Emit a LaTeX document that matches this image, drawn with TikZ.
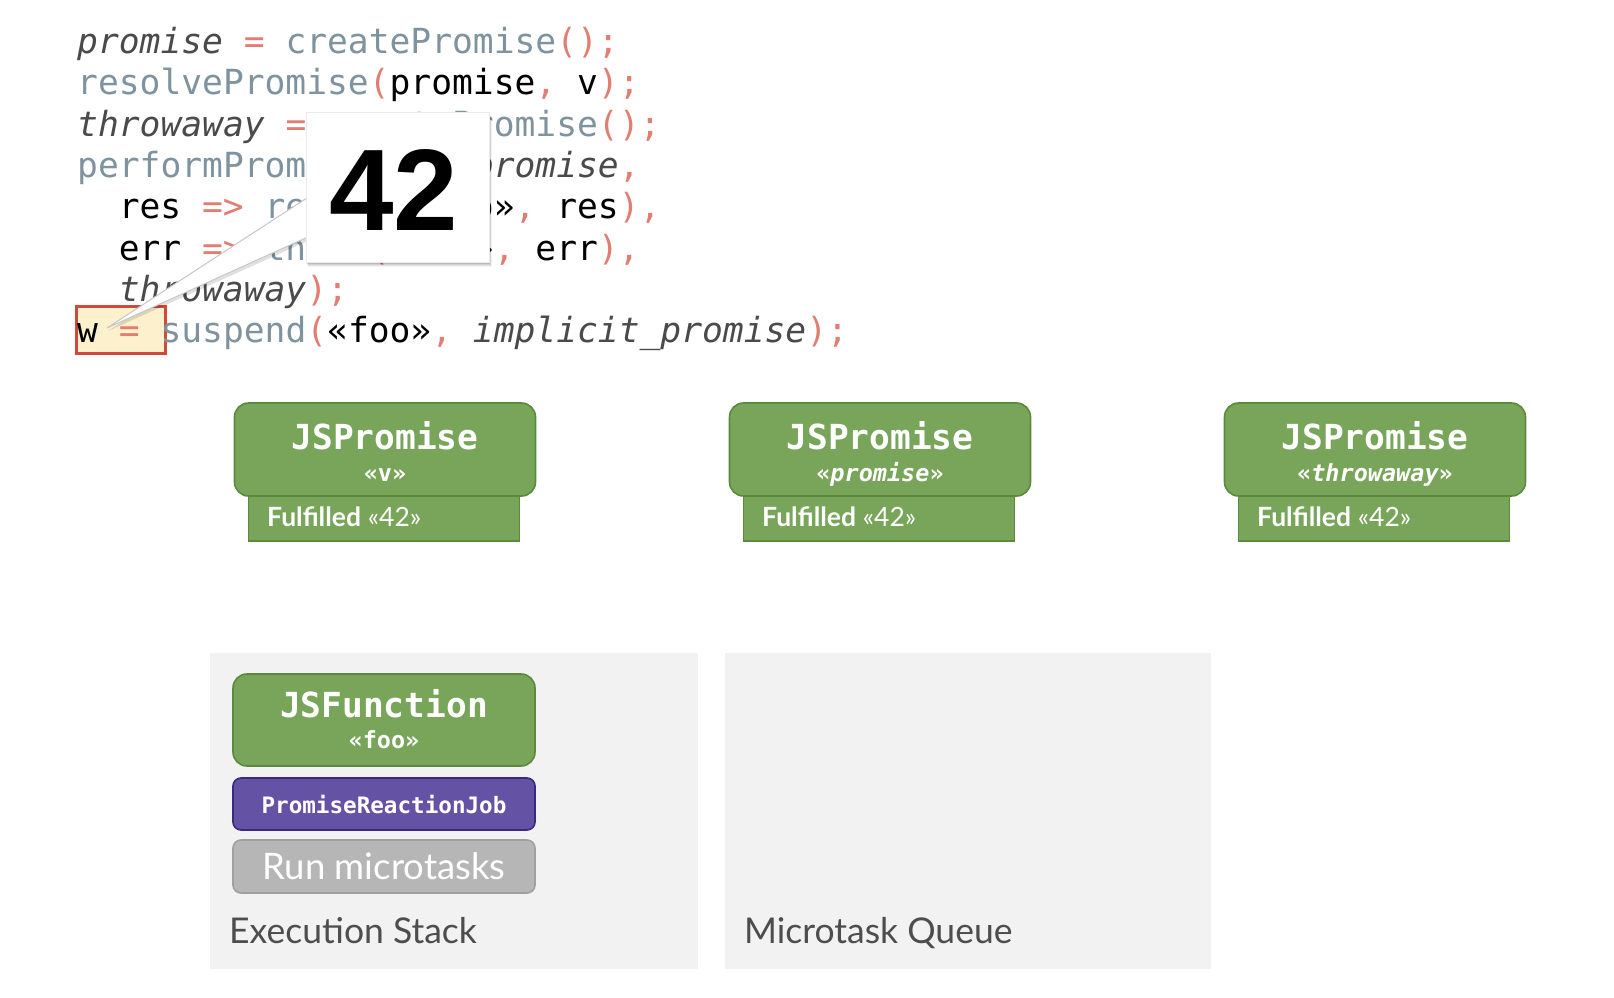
\documentclass[tikz,border=0pt]{standalone}
\usepackage{fontspec}
\usetikzlibrary{calc}
\setmainfont{Lato}
\newfontfamily\codefont{DejaVu Sans Mono}
\newfontfamily\numfont{Liberation Sans}
\definecolor{cslate}{HTML}{7E939E}
\definecolor{cpunct}{HTML}{E27D72}
\definecolor{cvar}{HTML}{4A4A4A}
\definecolor{gfill}{HTML}{78A55A}
\definecolor{gdraw}{HTML}{5A8A3C}
\definecolor{pfill}{HTML}{6452A4}
\definecolor{pdraw}{HTML}{3B2A7E}
\definecolor{rfill}{HTML}{B6B6B6}
\definecolor{rdraw}{HTML}{A0A0A0}
\definecolor{panel}{HTML}{F2F2F2}
\definecolor{labelc}{HTML}{4D4D4D}
\definecolor{wfill}{HTML}{FCF1CC}
\definecolor{wdraw}{HTML}{D04A3B}
\newcommand\kp[1]{\textcolor{cpunct}{#1}}
\newcommand\ks[1]{\textcolor{cslate}{#1}}
\newcommand\kv[1]{\textcolor{cvar}{\itshape #1}}
\tikzset{
  codeline/.style={anchor=base west, inner sep=0pt, font=\codefont\fontsize{34.6}{40}\selectfont},
  promisebox/.style={draw=gdraw, fill=gfill, line width=1.6pt, rounded corners=14pt},
  statebox/.style={draw=gdraw, fill=gfill, line width=1.6pt},
  titletext/.style={anchor=base, inner sep=0pt, text=white, font=\codefont\bfseries\fontsize{34.5}{38}\selectfont},
  subtext/.style={anchor=base, inner sep=0pt, text=white, font=\codefont\bfseries\fontsize{23.5}{26}\selectfont},
  statetext/.style={anchor=base west, inner sep=0pt, text=white, font=\fontsize{26.5}{30}\selectfont},
  panelbox/.style={fill=panel, draw=none},
  paneltext/.style={anchor=base west, inner sep=0pt, text=labelc, font=\fontsize{35.5}{40}\selectfont},
}
\begin{document}
\begin{tikzpicture}[x=1pt,y=-1pt]
\useasboundingbox (0,0) rectangle (1614,998);
\fill[white] (0,0) rectangle (1614,998);

% highlighted w box
\node[draw=wdraw, fill=wfill, line width=3pt, inner sep=0pt, minimum width=89pt, minimum height=47pt] (wbox) at (120.5,329.5) {};

% code lines
\node[codeline] (l1) at (77,53.5) {\kv{promise}\kp{~=~}\ks{createPromise}\kp{();}};
\node[codeline] (l2) at (77,94.8) {\ks{resolvePromise}\kp{(}promise\kp{,}~v\kp{);}};
\node[codeline] (l3) at (77,136.1) {\kv{throwaway}\kp{~=~}\ks{createPromise}\kp{();}};
\node[codeline] (l4) at (77,177.4) {\ks{performPromiseThen}\kp{(}\kv{promise}\kp{,}};
\node[codeline] (l5) at (118.6,218.7) {res~\kp{=>}~\ks{resume}\kp{(}«foo»\kp{,}~res\kp{),}};
\node[codeline] (l6) at (118.6,260) {err~\kp{=>}~\ks{throw}\kp{(}«foo»\kp{,}~err\kp{),}};
\node[codeline] (l7) at (118.6,301.3) {\kv{throwaway}\kp{);}};
\node[codeline] (l8) at (77,342.6) {w\kp{~=~}\ks{suspend}\kp{(}«foo»\kp{,}~\kv{implicit\_promise}\kp{);}};

% callout
\coordinate (tip) at (107,328);
\coordinate (pa) at (310,196);
\coordinate (pb) at (310,236);
\fill[black, opacity=0.12] ($(pa)+(0,3)$) -- ($(tip)+(1,3)$) -- ($(pb)+(0,4)$) -- cycle;
\filldraw[fill=white, draw=black!22, line width=1pt] (pa) -- (tip) -- (pb) -- cycle;
\foreach \s/\o in {5/0.05,4/0.06,3/0.08,2/0.10}{
  \fill[black, opacity=\o] (306+\s*0.4,112+\s) rectangle (489+\s*0.6,262+\s);
}
\node[fill=white, draw=black!8, line width=0.6pt, inner sep=0pt, minimum width=183pt, minimum height=150pt] (callout) at (397.5,187) {};
\node[anchor=base, inner sep=0pt, font=\numfont\bfseries\fontsize{116}{120}\selectfont] (num) at (394,230) {42};

% promises
\foreach \i/\lab in {0/{«v»}, 1/{«\itshape promise\upshape»}, 2/{«\itshape throwaway\upshape»}}{
  \pgfmathsetmacro\dx{495*\i}
  \node[statebox, inner sep=0pt, minimum width=271pt, minimum height=61pt] (st\i) at (384+\dx,510.5) {};
  \node[promisebox, inner sep=0pt, minimum width=301pt, minimum height=93pt] (pr\i) at (385+\dx,449.5) {};
  \node[titletext] (pt\i) at (385+\dx,449.5) {JSPromise};
  \node[subtext] (ps\i) at (385+\dx,481) {\lab};
  \node[statetext] (sf\i) at (267+\dx,526) {\textbf{Fulfilled} «42»};
}

% panels
\node[panelbox, inner sep=0pt, minimum width=488pt, minimum height=316pt] (exec) at (454,811) {};
\node[panelbox, inner sep=0pt, minimum width=486pt, minimum height=316pt] (mq) at (968,811) {};
\node[paneltext] (execl) at (229,943) {Execution Stack};
\node[paneltext] (mql) at (744,943) {Microtask Queue};

% stack frames
\node[promisebox, inner sep=0pt, minimum width=302pt, minimum height=92pt] (fn) at (384,720) {};
\node[titletext] (fnt) at (384,717) {JSFunction};
\node[subtext] (fns) at (384,748) {«foo»};
\node[draw=pdraw, fill=pfill, line width=1.6pt, rounded corners=8pt, inner sep=0pt, minimum width=302pt, minimum height=52pt, text=white, font=\codefont\bfseries\fontsize{22.6}{24}\selectfont] (prj) at (384,804) {PromiseReactionJob};
\node[draw=rdraw, fill=rfill, line width=1.6pt, rounded corners=8pt, inner sep=0pt, minimum width=302pt, minimum height=53pt, text=white, font=\fontsize{36.5}{40}\selectfont] (run) at (384,866.5) {Run microtasks};
\end{tikzpicture}
\end{document}
